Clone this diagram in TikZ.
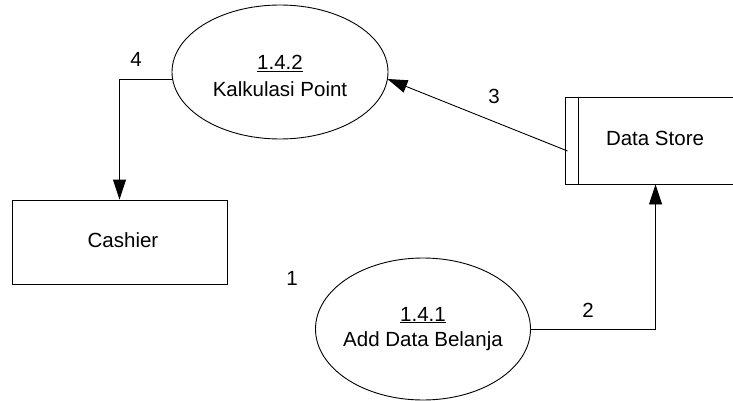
\documentclass[tikz,border=0pt]{standalone}
\usepackage{fontspec}
\setmainfont{Liberation Sans}
\usetikzlibrary{arrows.meta,shapes.geometric}
\begin{document}
\begin{tikzpicture}[x=1pt,y=-1pt,
  every node/.style={font=\fontsize{20.5}{24}\selectfont},
  proc/.style={draw,ellipse,line width=0.9pt,inner sep=0pt},
  ent/.style={draw,rectangle,line width=0.9pt,inner sep=0pt},
  txt/.style={anchor=base,inner sep=0pt},
  flow/.style={line width=0.9pt,-{Triangle[length=20pt,width=13pt]}}]
\clip (0,0) rectangle (733,401);
\fill[white] (0,0) rectangle (733,401);
% processes
\node[proc,minimum width=216pt,minimum height=134pt] (e2) at (280,72) {};
\node[proc,minimum width=215pt,minimum height=142pt] (e1) at (423,329) {};
% external entity
\node[ent,minimum width=215pt,minimum height=84pt] (cash) at (119.5,242) {};
% data store (right side runs past the edge)
\node[ent,minimum width=200pt,minimum height=87pt] (store) at (665,140.5) {};
\draw[line width=0.9pt] ([xshift=14pt]store.north west) -- ([xshift=14pt]store.south west);
% texts
\node[txt] (t2a) at (280,70) {\underline{1.4.2}};
\node[txt] (t2b) at (280,97) {Kalkulasi Point};
\node[txt] (t1a) at (423,321) {\underline{1.4.1}};
\node[txt] (t1b) at (423,346.5) {Add Data Belanja};
\node[txt] (tc) at (123,247) {Cashier};
\node[txt] (ts) at (655,145) {Data Store};
% flow labels
\node[txt] (l4) at (136,66.5) {4};
\node[txt] (l3) at (494,103) {3};
\node[txt] (l1) at (292,285) {1};
\node[txt] (l2) at (588,317) {2};
% flows
\draw[flow] (e1.east) -| ([xshift=91pt]store.south west);
\draw[flow] ([yshift=-10.5pt,xshift=3pt]store.west) -- ([yshift=-7pt,xshift=-1pt]e2.east);
\draw[flow] ([yshift=-7pt]e2.west) -| (cash.north);
\end{tikzpicture}
\end{document}
